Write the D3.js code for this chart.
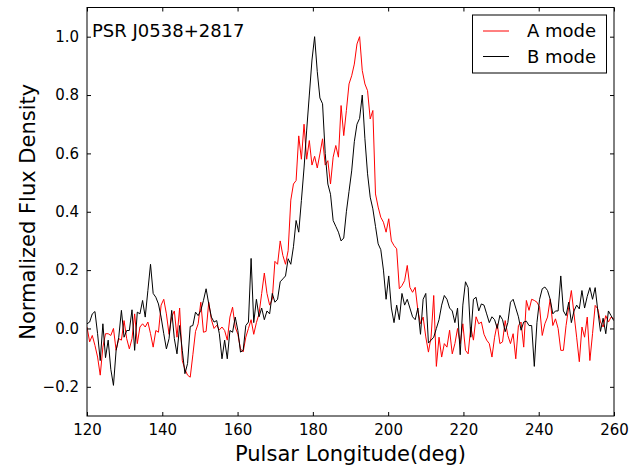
<!DOCTYPE html>
<html>
<head>
<meta charset="utf-8">
<script src="https://cdn.jsdelivr.net/npm/d3@7"></script>
<style>
  html, body { margin: 0; padding: 0; background: #fff; }
  svg { display: block; font-family: "DejaVu Sans", sans-serif; }
</style>
</head>
<body>
<svg id="chart" width="633" height="472"></svg>
<script>
// ---- data ----
const lonStart = 120;          // longitude of first bin (deg)
const binWidth = 0.703125;     // 360/512 deg per bin
const xTicks = [120, 140, 160, 180, 200, 220, 240, 260];
const yTicks = [-0.2, 0.0, 0.2, 0.4, 0.6, 0.8, 1.0];
const seriesNames = ["A mode", "B mode"];
const pulsarName = "PSR J0538+2817";

const modeA = [
  0.005,-0.046,-0.024,-0.058,-0.098,-0.16,-0.064,-0.018,-0.018,-0.024,
  0.0,-0.075,-0.035,-0.04,0.027,-0.035,-0.07,-0.035,0.05,-0.052,
  0.005,0.016,0.005,0.022,-0.018,-0.064,-0.007,-0.013,0.08,0.10,
  0.05,-0.02,0.04,0.06,-0.03,0.07,-0.11,-0.14,-0.16,-0.167,
  -0.09,-0.01,0.016,0.09,-0.013,-0.01,0.09,0.03,0.0,0.011,
  -0.005,0.005,-0.007,-0.04,0.039,0.073,0.005,-0.02,-0.07,-0.08,
  -0.03,0.0,0.03,-0.02,0.02,0.05,0.12,0.19,0.12,0.08,
  0.10,0.23,0.22,0.30,0.25,0.22,0.267,0.44,0.495,0.507,
  0.66,0.58,0.70,0.58,0.644,0.56,0.59,0.55,0.598,0.65,
  0.56,0.575,0.495,0.587,0.627,0.587,0.764,0.661,0.747,0.838,
  0.866,0.906,0.975,1.0,0.884,0.838,0.815,0.718,0.747,0.461,
  0.416,0.381,0.364,0.33,0.376,0.30,0.284,0.273,0.136,0.147,
  0.164,0.216,0.141,0.124,0.141,0.062,0.016,0.039,-0.029,-0.081,
  -0.029,0.113,-0.13,-0.03,-0.098,-0.052,-0.064,-0.006,-0.087,-0.052,
  0.0,-0.052,0.016,-0.075,-0.087,0.005,-0.04,0.04,0.016,0.022,
  -0.02,-0.04,-0.052,-0.098,-0.03,0.016,-0.052,-0.046,0.027,-0.024,
  -0.052,-0.018,-0.104,0.01,0.022,-0.064,0.096,0.062,0.10,0.096,
  0.09,0.073,-0.024,0.016,0.039,0.101,0.01,0.033,0.0,-0.075,
  -0.075,0.01,0.073,0.13,0.05,-0.03,-0.114,0.005,-0.03,0.039,
  -0.11,-0.018,0.079,0.067,0.022,0.005,0.044,0.022,0.039,0.033
];

const modeB = [
  0.016,0.022,0.05,0.058,-0.018,-0.11,0.016,-0.10,-0.04,-0.14,
  -0.195,-0.075,-0.03,0.062,-0.03,-0.007,-0.007,0.064,-0.075,0.056,
  0.05,0.096,0.039,0.13,0.22,0.12,0.107,0.084,0.039,-0.018,
  -0.07,-0.035,0.062,-0.035,-0.087,0.01,-0.075,-0.155,-0.12,0.007,
  0.01,0.056,0.044,0.062,0.096,0.136,0.084,0.039,0.022,0.027,
  -0.018,-0.104,-0.04,-0.104,-0.007,-0.013,0.039,-0.007,-0.081,-0.075,
  0.01,0.022,0.24,0.02,0.10,0.04,0.07,0.03,0.06,0.05,
  0.12,0.09,0.10,0.16,0.17,0.18,0.239,0.22,0.28,0.37,
  0.33,0.438,0.55,0.68,0.80,0.92,1.0,0.88,0.79,0.77,
  0.60,0.495,0.46,0.37,0.35,0.33,0.30,0.31,0.40,0.47,
  0.54,0.64,0.70,0.72,0.80,0.65,0.53,0.45,0.41,0.35,
  0.29,0.27,0.20,0.10,0.18,0.07,0.02,0.08,0.03,0.12,
  0.08,0.10,0.07,0.04,0.03,0.07,-0.02,0.10,0.12,-0.05,
  -0.04,-0.03,0.0,0.03,0.08,0.113,0.10,0.07,0.06,0.02,
  0.07,-0.09,0.08,0.16,0.14,-0.03,0.10,0.107,0.06,0.084,
  0.08,0.05,0.02,0.04,0.03,0.0,0.045,0.03,-0.011,0.02,
  0.09,0.10,0.07,0.04,-0.006,0.022,0.025,0.01,0.01,-0.13,
  0.02,0.10,0.136,0.142,0.13,0.10,0.05,0.06,0.06,0.18,
  0.06,0.044,0.09,0.02,0.06,0.08,0.067,0.13,0.07,0.11,
  0.14,0.10,0.14,0.06,-0.01,0.035,-0.018,0.06,0.044,0.027
];

// ---- layout ----
const svg = d3.select("#chart");
const L = 87, R = 614, T = 7.5, B = 416;
const x = d3.scaleLinear().domain([120, 260]).range([L, R]);
const y = d3.scaleLinear().domain([-0.3, 1.1]).range([B, T]);

svg.append("defs").append("clipPath").attr("id", "clip")
  .append("rect").attr("x", L).attr("y", T).attr("width", R - L).attr("height", B - T);

const lon = i => lonStart + i * binWidth;
const line = d3.line().x((d, i) => x(lon(i))).y(d => y(d));

const g = svg.append("g").attr("clip-path", "url(#clip)");
g.append("path").datum(modeA).attr("d", line)
  .attr("fill", "none").attr("stroke", "#ff0000").attr("stroke-width", 1);
g.append("path").datum(modeB).attr("d", line)
  .attr("fill", "none").attr("stroke", "#000000").attr("stroke-width", 1);

// axes (ticks inside, on all four sides)
const tl = 4;
const fmt = d => d3.format(".1f")(d).replace("-", "\u2212");
const axB = d3.axisBottom(x).tickValues(xTicks).tickSizeInner(-tl).tickSizeOuter(0).tickPadding(8).tickFormat(d3.format("d"));
const axT = d3.axisTop(x).tickValues(xTicks).tickSizeInner(-tl).tickSizeOuter(0).tickFormat("");
const axLft = d3.axisLeft(y).tickValues(yTicks).tickSizeInner(-tl).tickSizeOuter(0).tickPadding(8).tickFormat(fmt);
const axRgt = d3.axisRight(y).tickValues(yTicks).tickSizeInner(-tl).tickSizeOuter(0).tickFormat("");

function style(sel) {
  sel.select(".domain").remove();
  sel.selectAll("line").attr("stroke", "#000").attr("stroke-width", 1);
  sel.selectAll("text").attr("fill", "#000").style("font-size", "15px").style("font-family", "DejaVu Sans, sans-serif");
}
svg.append("g").attr("transform", `translate(0,${B})`).call(axB).call(style);
svg.append("g").attr("transform", `translate(0,${T})`).call(axT).call(style);
svg.append("g").attr("transform", `translate(${L},0)`).call(axLft).call(style);
svg.append("g").attr("transform", `translate(${R},0)`).call(axRgt).call(style);

// frame
svg.append("rect").attr("x", L).attr("y", T).attr("width", R - L).attr("height", B - T)
  .attr("fill", "none").attr("stroke", "#000").attr("stroke-width", 1);

// labels
svg.append("text").attr("x", (L + R) / 2).attr("y", 461).attr("text-anchor", "middle")
  .style("font-size", "21px").text("Pulsar Longitude(deg)");
svg.append("text").attr("transform", `translate(35,${(T + B) / 2}) rotate(-90)`)
  .attr("text-anchor", "middle").style("font-size", "21px").text("Normalized Flux Density");
svg.append("text").attr("x", 92).attr("y", 37).style("font-size", "18px").text(pulsarName);

// legend
const lg = svg.append("g");
lg.append("rect").attr("x", 472.5).attr("y", 15).attr("width", 134).attr("height", 58)
  .attr("fill", "#fff").attr("stroke", "#000").attr("stroke-width", 1);
const colors = ["#ff0000", "#000000"];
seriesNames.forEach((name, k) => {
  const yy = 31 + k * 25.5;
  lg.append("line").attr("x1", 483).attr("x2", 509).attr("y1", yy).attr("y2", yy)
    .attr("stroke", colors[k]).attr("stroke-width", 1);
  lg.append("text").attr("x", 527).attr("y", yy + 6).style("font-size", "18px").text(name);
});
</script>
</body>
</html>
